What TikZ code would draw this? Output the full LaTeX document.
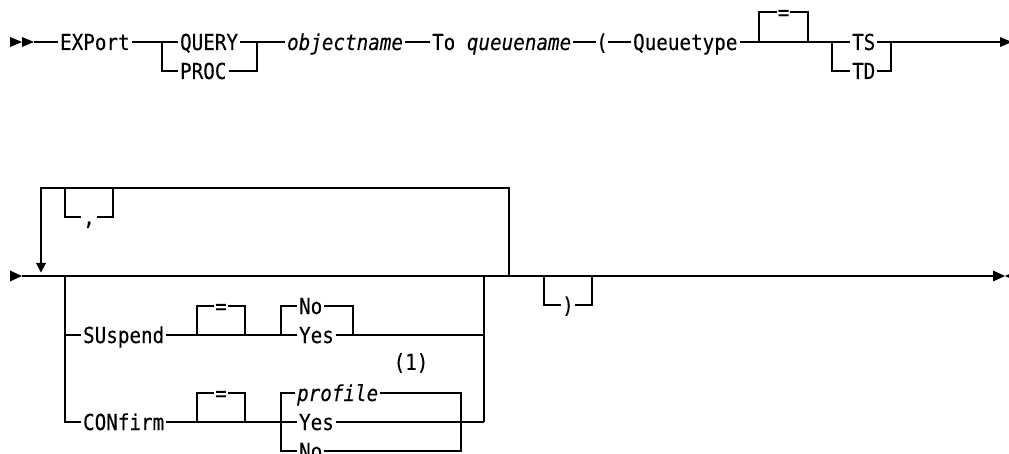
\documentclass[tikz,border=0pt]{standalone}
\usepackage{fontspec}
\newfontfamily\diagfont{DejaVu Sans Mono}[FakeStretch=0.875,FakeBold=0.2]
\begin{document}
\begin{tikzpicture}[x=1pt,y=-1pt,line width=1.2pt,
  kw/.style={font=\diagfont\fontsize{22}{26}\selectfont,inner xsep=1.5pt,inner ysep=0pt,
             text height=16pt,text depth=0pt,anchor=west},
  sym/.style={kw,anchor=center,inner xsep=0pt},
  note/.style={font=\diagfont\fontsize{22}{26}\selectfont,inner sep=0pt,anchor=center}]
\useasboundingbox (0,0) rectangle (1009,454);

% ---------- first line of the statement ----------
\fill (10,37) -- (22,42) -- (10,47) -- cycle;
\fill (22,37) -- (34,42) -- (22,47) -- cycle;
\coordinate (r1s) at (34,42);
\node[kw] (export) at (58,42) {EXPort};
\draw (r1s) -- (export.west);

\coordinate (c1l) at (162,42);
\coordinate (c1r) at (257,42);
\node[kw] (query) at (178,42) {QUERY};
\node[kw] (proc)  at (178,71) {PROC};
\draw (export.east) -- (c1l) -- (query.west);
\draw (c1l) |- (proc.west);
\draw (query.east) -- (c1r);
\draw (proc.east) -| (c1r);

\node[kw] (objname) at (285,42) {\itshape objectname};
\draw (c1r) -- (objname.west);
\node[kw] (to) at (430,42) {To {\itshape queuename}};
\draw (objname.east) -- (to.west);
\node[sym] (lpar) at (602,42) {(};
\draw (to.east) -- (lpar.west);
\node[kw] (qtype) at (631,42) {Queuetype};
\draw (lpar.east) -- (qtype.west);

% optional "="
\coordinate (eqL) at (759,42);
\coordinate (eqR) at (808,42);
\node[sym] (eq1) at (783.5,12) {=};
\draw (eqL) |- (eq1.west);
\draw (eq1.east) -| (eqR);

% TS / TD
\coordinate (c2l) at (832,42);
\coordinate (c2r) at (891,42);
\draw (qtype.east) -- (c2l);
\node[kw] (ts) at (850,42) {TS};
\node[kw] (td) at (850,71) {TD};
\draw (c2l) -- (ts.west);
\draw (c2l) |- (td.west);
\draw (ts.east) -- (c2r);
\draw (td.east) -| (c2r);
\coordinate (r1e) at (1000,42);
\draw (c2r) -- (r1e);
\fill (1000,37) -- (1012,42) -- (1000,47) -- cycle;

% ---------- second line of the statement ----------
\fill (10,270.5) -- (22,276) -- (10,281.5) -- cycle;
\coordinate (r2s) at (22,276);
\coordinate (r2e) at (993,276);
\draw (r2s) -- (r2e);
\fill (993,270.5) -- (1005,276) -- (993,281.5) -- cycle;
\fill (1017,270.5) -- (1005,276) -- (1017,281.5) -- cycle;

% repeat loop with separator
\coordinate (lpB) at (41,263);
\coordinate (lpT) at (41,188);
\coordinate (lpR) at (509,188);
\coordinate (lpRB) at (509,276);
\draw (lpRB) -- (lpR) -- (lpT) -- (lpB);
\fill (36,263) -- (46,263) -- (41,272.5) -- cycle;
\coordinate (cmL) at (65,188);
\coordinate (cmR) at (113,188);
\node[sym,inner xsep=2pt] (comma) at (89,217) {,};
\draw (cmL) |- (comma.west);
\draw (comma.east) -| (cmR);

% options stack
\coordinate (opL) at (65,276);
\coordinate (opR) at (484,276);
\node[kw] (susp) at (81,335) {SUspend};
\node[kw] (conf) at (81,422) {CONfirm};
\draw (opL) |- (susp.west);
\draw (opL) |- (conf.west);
\coordinate (sEnd) at (484,335);
\coordinate (cEnd) at (484,422);
\draw (opR) -- (cEnd);

% SUspend
\coordinate (sEqL) at (197,335);
\coordinate (sEqR) at (245,335);
\node[sym,inner xsep=1pt] (seq) at (221,306) {=};
\draw (sEqL) |- (seq.west);
\draw (seq.east) -| (sEqR);
\coordinate (sChL) at (281,335);
\coordinate (sChR) at (353,335);
\node[kw] (sno)  at (297,306) {No};
\node[kw] (syes) at (297,335) {Yes};
\draw (susp.east) -- (sChL) -- (syes.west);
\draw (sChL) |- (sno.west);
\draw (sno.east) -| (sChR);
\draw (syes.east) -- (sEnd);

\node[note] (note1) at (411,363) {(1)};

% CONfirm
\coordinate (cEqL) at (197,422);
\coordinate (cEqR) at (245,422);
\node[sym,inner xsep=1pt] (ceq) at (221,393) {=};
\draw (cEqL) |- (ceq.west);
\draw (ceq.east) -| (cEqR);
\coordinate (cChL) at (281,422);
\coordinate (cChR) at (461,393);
\coordinate (cChRB) at (461,451);
\node[kw] (cprof) at (295,393) {\itshape profile};
\node[kw] (cyes)  at (297,422) {Yes};
\node[kw] (cno)   at (297,451) {No};
\draw (conf.east) -- (cChL) -- (cyes.west);
\draw (cChL) |- (cprof.west);
\draw (cChL) |- (cno.west);
\draw (cprof.east) -- (cChR) -- (cChRB) -- (cno.east);
\draw (cyes.east) -- (cEnd);

% optional closing parenthesis
\coordinate (rpL) at (544,276);
\coordinate (rpR) at (592,276);
\node[sym,inner xsep=1pt] (rpar) at (568,305) {)};
\draw (rpL) |- (rpar.west);
\draw (rpar.east) -| (rpR);
\end{tikzpicture}
\end{document}
